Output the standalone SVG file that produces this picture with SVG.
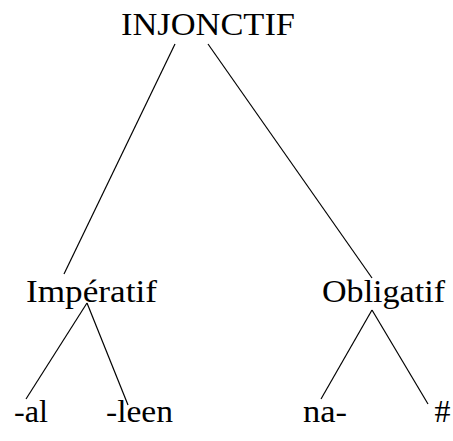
<svg xmlns="http://www.w3.org/2000/svg" width="453" height="441" viewBox="0 0 453 441">
<style>
text{font-family:"Liberation Serif","DejaVu Serif",serif;font-size:32px;fill:#000;text-anchor:middle}
line{stroke:#000;stroke-width:1.2}
</style>
<rect width="453" height="441" fill="#fff"/>
<g id="connectors">
<line x1="175" y1="44" x2="64" y2="274"/>
<line x1="208" y1="44" x2="372" y2="278"/>
<line x1="87" y1="303" x2="26" y2="399"/>
<line x1="87" y1="303" x2="128" y2="405"/>
<line x1="372" y1="310" x2="321" y2="399"/>
<line x1="372" y1="310" x2="428" y2="404"/>
</g>
<g id="injonctif"><text x="208" y="35" textLength="174" lengthAdjust="spacingAndGlyphs">INJONCTIF</text></g>
<g id="imperatif"><text x="91.5" y="302" textLength="131" lengthAdjust="spacingAndGlyphs">Impératif</text></g>
<g id="obligatif"><text x="383.5" y="302" textLength="123" lengthAdjust="spacingAndGlyphs">Obligatif</text></g>
<g id="al"><text x="31" y="422" textLength="34" lengthAdjust="spacingAndGlyphs">-al</text></g>
<g id="leen"><text x="139.5" y="422" textLength="67" lengthAdjust="spacingAndGlyphs">-leen</text></g>
<g id="na"><text x="325" y="422" textLength="44" lengthAdjust="spacingAndGlyphs">na-</text></g>
<g id="hash"><text x="442.5" y="422">#</text></g>
</svg>
